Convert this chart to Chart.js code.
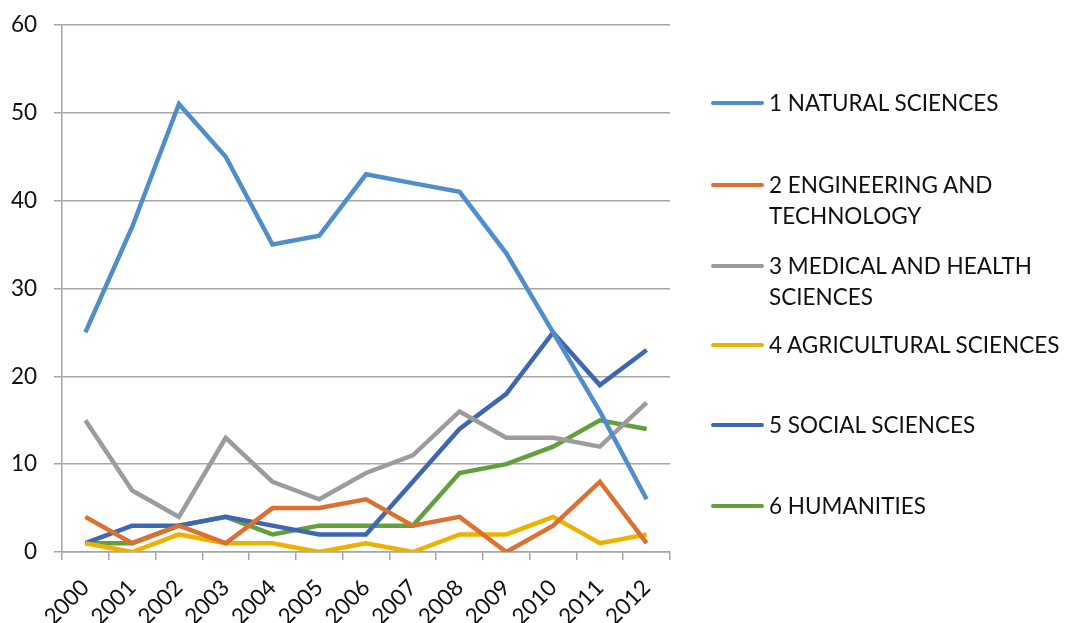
<!DOCTYPE html>
<html>
<head>
<meta charset="utf-8">
<script src="https://cdn.jsdelivr.net/npm/chart.js@4/dist/chart.umd.min.js"></script>
<style>
  html, body { margin: 0; padding: 0; background: #fff; }
  #wrap { position: relative; width: 1067px; height: 623px; }
  #c { position: absolute; left: 0; top: 0; }
  #legend { position: absolute; left: 711px; top: 0; font-family: Lato, "Open Sans", sans-serif; font-size: 22.5px; color: #111; }
  .item { position: absolute; left: 0; width: 356px; }
  .swatch { position: absolute; left: 0; width: 53px; height: 4px; border-radius: 2px; }
  .label { position: absolute; left: 58px; line-height: 31px; white-space: nowrap; }
</style>
</head>
<body>
<div id="wrap">
  <canvas id="c" width="1067" height="623"></canvas>
  <div id="legend"></div>
</div>
<script>
const years = ['2000','2001','2002','2003','2004','2005','2006','2007','2008','2009','2010','2011','2012'];
const naturalSciences = [25, 37, 51, 45, 35, 36, 43, 42, 41, 34, 25, 16, 6];
const engineeringTechnology = [4, 1, 3, 1, 5, 5, 6, 3, 4, 0, 3, 8, 1];
const medicalHealth = [15, 7, 4, 13, 8, 6, 9, 11, 16, 13, 13, 12, 17];
const agricultural = [1, 0, 2, 1, 1, 0, 1, 0, 2, 2, 4, 1, 2];
const socialSciences = [1, 3, 3, 4, 3, 2, 2, 8, 14, 18, 25, 19, 23];
const humanities = [1, 1, 3, 4, 2, 3, 3, 3, 9, 10, 12, 15, 14];
const yTicks = [0, 10, 20, 30, 40, 50, 60];

const seriesNames = [
  ['1 NATURAL SCIENCES'],
  ['2 ENGINEERING AND', 'TECHNOLOGY'],
  ['3 MEDICAL AND HEALTH', 'SCIENCES'],
  ['4 AGRICULTURAL SCIENCES'],
  ['5 SOCIAL SCIENCES'],
  ['6 HUMANITIES']
];
const seriesData = [naturalSciences, engineeringTechnology, medicalHealth, agricultural, socialSciences, humanities];
const seriesColors = ['#4F8EC9', '#DC7030', '#9C9C9C', '#EDB100', '#3D66B5', '#629F3D'];

const datasets = seriesData.map((d, i) => ({
  label: seriesNames[i].join(' '),
  data: d,
  borderColor: seriesColors[i],
  backgroundColor: seriesColors[i],
  borderWidth: 4.5,
  pointRadius: 0,
  pointHoverRadius: 0,
  tension: 0,
  fill: false
}));

const font = { family: 'Lato, "Open Sans", sans-serif', size: 22.5, lineHeight: 1 };

new Chart(document.getElementById('c'), {
  type: 'line',
  data: { labels: years, datasets: datasets },
  options: {
    responsive: false,
    animation: false,
    layout: { padding: { top: 25, right: 397, left: 0, bottom: 0 } },
    plugins: { legend: { display: false }, tooltip: { enabled: false } },
    scales: {
      x: {
        offset: true,
        grid: { display: true, drawOnChartArea: false, drawTicks: true, tickLength: 8, color: '#A6A6A6', offset: true, lineWidth: 1.5 },
        border: { display: true, color: '#A6A6A6', width: 1.5 },
        ticks: { color: '#111', font: font, maxRotation: 45, minRotation: 45, autoSkip: false, padding: 16 },
        afterFit: (s) => { s.height = 71; }
      },
      y: {
        min: 0, max: 60,
        afterBuildTicks: (s) => { s.ticks = yTicks.map(v => ({ value: v })); },
        grid: { color: '#A6A6A6', lineWidth: 1.5, tickLength: 8 },
        border: { display: true, color: '#A6A6A6', width: 1.5 },
        ticks: { color: '#111', font: font, padding: 17 },
        afterFit: (s) => { s.width = 62; s.paddingTop = 0; s.paddingBottom = 0; }
      }
    }
  }
});

// Legend built from the series arrays
const legendTops = [103, 185, 266, 345, 425, 506];
const legend = document.getElementById('legend');
seriesNames.forEach((lines, i) => {
  const item = document.createElement('div');
  item.className = 'item';
  item.style.top = legendTops[i] + 'px';
  const sw = document.createElement('div');
  sw.className = 'swatch';
  sw.style.background = seriesColors[i];
  sw.style.top = '-2px';
  item.appendChild(sw);
  const lab = document.createElement('div');
  lab.className = 'label';
  lab.style.top = '-16px';
  lab.innerHTML = lines.join('<br>');
  item.appendChild(lab);
  legend.appendChild(item);
});
</script>
</body>
</html>
